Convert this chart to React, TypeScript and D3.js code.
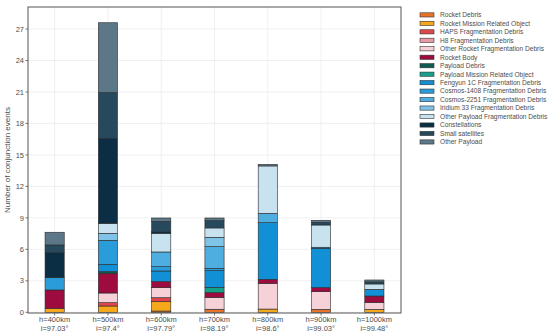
import React from "react";
import * as d3 from "d3";

const categories = ["h=400km|i=97.03°", "h=500km|i=97.4°", "h=600km|i=97.79°", "h=700km|i=98.19°", "h=800km|i=98.6°", "h=900km|i=99.03°", "h=1000km|i=99.48°"];
const seriesNames = [
  "Rocket Debris",
  "Rocket Mission Related Object",
  "HAPS Fragmentation Debris",
  "H8 Fragmentation Debris",
  "Other Rocket Fragmentation Debris",
  "Rocket Body",
  "Payload Debris",
  "Payload Mission Related Object",
  "Fengyun 1C Fragmentation Debris",
  "Cosmos-1408 Fragmentation Debris",
  "Cosmos-2251 Fragmentation Debris",
  "Iridium 33 Fragmentation Debris",
  "Other Payload Fragmentation Debris",
  "Constellations",
  "Small satellites",
  "Other Payload",
];
const seriesColors = ["#E8742C", "#F5A81C", "#E0474C", "#E99CA6", "#F6D2D8", "#9E0B3E", "#0D5B52", "#15A08A", "#1190D6", "#2B9CDA", "#4FAEE0", "#80C3E8", "#C8E2F0", "#0B2E45", "#26495E", "#5C7787"];
// values per series, one per category (400..1000km)
const rocketDebris = [0, 0, 0.12, 0.29, 0, 0.28, 0];
const rocketMRO = [0.38, 0.6, 0.89, 0, 0.31, 0, 0.28];
const hapsFrag = [0, 0.32, 0.38, 0, 0, 0, 0];
const h8Frag = [0, 0, 0, 0, 0, 0, 0];
const otherRocketFrag = [0, 0.92, 0.96, 1.14, 2.45, 1.69, 0.67];
const rocketBody = [1.75, 1.88, 0.57, 0.44, 0.38, 0.38, 0.6];
const payloadDebris = [0, 0.15, 0, 0, 0, 0, 0];
const payloadMRO = [0, 0, 0, 0.51, 0, 0, 0];
const fengyun = [0, 0.7, 1.02, 1.59, 5.4, 3.75, 0.64];
const cosmos1408 = [1.17, 2.29, 0.41, 0.22, 0, 0.1, 0];
const cosmos2251 = [0, 0, 1.4, 2.07, 0.89, 0, 0];
const iridium33 = [0, 0.67, 0, 0.89, 0, 0, 0];
const otherPayloadFrag = [0, 0.95, 1.78, 0.89, 4.52, 2.12, 0.51];
const constellations = [2.38, 8.1, 0.13, 0, 0, 0, 0];
const smallSatellites = [0.74, 4.36, 1.01, 0.69, 0, 0.25, 0.2];
const otherPayload = [1.21, 6.66, 0.32, 0.26, 0.15, 0.2, 0.18];
const yTicks = [0, 3, 6, 9, 12, 15, 18, 21, 24, 27];

const seriesValues = [rocketDebris, rocketMRO, hapsFrag, h8Frag, otherRocketFrag, rocketBody, payloadDebris, payloadMRO, fengyun, cosmos1408, cosmos2251, iridium33, otherPayloadFrag, constellations, smallSatellites, otherPayload];

export default function App() {
  const W = 550, H = 334;
  const left = 28, right = 401, top = 7, bottom = 313;
  const x = d3.scaleBand<string>().domain(categories).range([left, right]).paddingInner(0.64).paddingOuter(0.32);
  const y = d3.scaleLinear().domain([0, 29.1]).range([bottom - 0.7, top]);

  const rows = categories.map((c, i) => {
    const r: any = { cat: c };
    seriesNames.forEach((s, j) => (r[s] = seriesValues[j][i]));
    return r;
  });
  const stacked = d3.stack().keys(seriesNames)(rows);
  const font = "Liberation Sans, Arial, sans-serif";

  return (
    <svg width={W} height={H} style={{ position: "absolute", left: 0, top: 0, background: "#fff" }} fontFamily={font}>
      <rect x={0} y={0} width={W} height={H} fill="#fff" />
      {yTicks.map((t) => (
        <line key={"g" + t} x1={left} x2={right} y1={y(t)} y2={y(t)} stroke="#ececec" strokeWidth={0.8} />
      ))}
      {categories.map((c) => (
        <line key={"gv" + c} x1={x(c)! + x.bandwidth() / 2} x2={x(c)! + x.bandwidth() / 2} y1={top} y2={bottom} stroke="#ececec" strokeWidth={0.8} />
      ))}
      {stacked.map((layer, j) => (
        <g key={layer.key}>
          {layer.map((d, i) =>
            d[1] - d[0] > 0 ? (
              <rect
                key={i}
                x={x(categories[i])}
                width={x.bandwidth()}
                y={y(d[1])}
                height={y(d[0]) - y(d[1])}
                fill={seriesColors[j]}
                stroke="#2a2a2a"
                strokeWidth={0.6}
              />
            ) : null
          )}
        </g>
      ))}
      <rect x={left} y={top} width={right - left} height={bottom - top} fill="none" stroke="#555" strokeWidth={1} />
      {yTicks.map((t) => (
        <g key={"t" + t}>
          <line x1={left - 2.5} x2={left} y1={y(t)} y2={y(t)} stroke="#555" strokeWidth={0.8} />
          <text x={left - 4} y={y(t)} dy="0.35em" textAnchor="end" fontSize={7.5} fill="#4d4d4d">{t}</text>
        </g>
      ))}
      {categories.map((c) => {
        const cx = x(c)! + x.bandwidth() / 2;
        const [l1, l2] = c.split("|");
        return (
          <g key={"x" + c}>
            <line x1={cx} x2={cx} y1={bottom} y2={bottom + 2.5} stroke="#555" strokeWidth={0.8} />
            <text x={cx} y={322} textAnchor="middle" fontSize={7.5} fill="#4d4d4d">{l1}</text>
            <text x={cx} y={331} textAnchor="middle" fontSize={7.5} fill="#4d4d4d">{l2}</text>
          </g>
        );
      })}
      <text transform={`translate(10,${(top + bottom) / 2}) rotate(-90)`} textAnchor="middle" fontSize={8} fill="#4d4d4d">Number of conjunction events</text>
      {seriesNames.map((s, j) => (
        <g key={"l" + s} transform={`translate(420,${12.8 + j * 8.47})`}>
          <rect x={0} y={0} width={14} height={4.2} fill={seriesColors[j]} stroke="#333" strokeWidth={0.6} />
          <text x={20} y={2.1} dy="0.35em" fontSize={6.6} fill="#4d4d4d">{s}</text>
        </g>
      ))}
    </svg>
  );
}
